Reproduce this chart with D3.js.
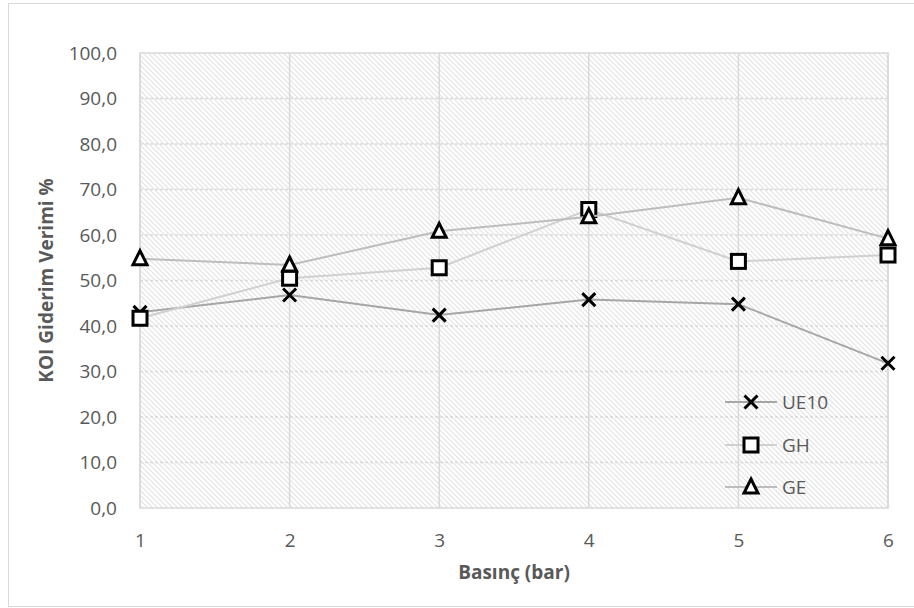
<!DOCTYPE html>
<html><head><meta charset="utf-8">
<script src="https://cdn.jsdelivr.net/npm/d3@7"></script>
<style>html,body{margin:0;padding:0;background:#fff;}svg{display:block;}</style>
</head><body>
<script>
const categories = [1, 2, 3, 4, 5, 6];
const seriesNames = ["UE10", "GH", "GE"];
const ue10 = [43.0, 46.8, 42.4, 45.8, 44.8, 31.8];
const gh = [41.7, 50.5, 52.8, 65.6, 54.2, 55.6];
const ge = [54.8, 53.4, 60.8, 64.0, 68.2, 59.2];
const yTicks = [0, 10, 20, 30, 40, 50, 60, 70, 80, 90, 100];
const xTitle = "Basınç (bar)";
const yTitle = "KOI Giderim Verimi %";

const W = 914, H = 608;
const font = "'Open Sans', sans-serif";
const fs = 19;
const textColor = "#595959";
const svg = d3.select("body").append("svg").attr("width", W).attr("height", H);

svg.append("rect").attr("x", 8.5).attr("y", 3.5).attr("width", W).attr("height", 603)
  .attr("fill", "#fff").attr("stroke", "#d9d9d9").attr("stroke-width", 1);

const x = d3.scaleLinear().domain([1, 6]).range([140, 888]);
const y = d3.scaleLinear().domain([0, 100]).range([508, 53]);

const defs = svg.append("defs");
const pat = defs.append("pattern").attr("id", "hatch").attr("patternUnits", "userSpaceOnUse")
  .attr("width", 5).attr("height", 5);
pat.append("rect").attr("width", 5).attr("height", 5).attr("fill", "#fff");
pat.append("path").attr("d", "M-1,-1 L6,6 M-1,4 L1,6 M4,-1 L6,1")
  .attr("stroke", "#e3e3e3").attr("stroke-width", 1.2);

svg.append("rect").attr("x", x(1)).attr("y", y(100)).attr("width", x(6) - x(1)).attr("height", y(0) - y(100))
  .attr("fill", "url(#hatch)");

svg.append("g").selectAll("line").data(yTicks.filter(d => d > 0 && d < 100)).join("line")
  .attr("x1", x(1)).attr("x2", x(6)).attr("y1", d => y(d)).attr("y2", d => y(d))
  .attr("stroke", "#d9d9d9").attr("stroke-width", 1.3).attr("stroke-dasharray", "3,2");
svg.append("g").selectAll("line").data(categories).join("line")
  .attr("x1", d => x(d)).attr("x2", d => x(d)).attr("y1", y(0)).attr("y2", y(100))
  .attr("stroke", "#d9d9d9").attr("stroke-width", 1.5);
svg.append("rect").attr("x", x(1)).attr("y", y(100)).attr("width", x(6) - x(1)).attr("height", y(0) - y(100))
  .attr("fill", "none").attr("stroke", "#d9d9d9").attr("stroke-width", 1.5);

const fmt = d => d3.format(".1f")(d).replace(".", ",");
const yAxis = svg.append("g").attr("transform", `translate(${x(1) - 23},0)`)
  .call(d3.axisLeft(y).tickValues(yTicks).tickFormat(fmt).tickSize(0));
yAxis.select(".domain").remove();
yAxis.selectAll("text").attr("font-family", font).attr("font-size", fs).attr("fill", textColor).attr("x", 0);

const xAxis = svg.append("g").attr("transform", `translate(0,${y(0) + 22})`)
  .call(d3.axisBottom(x).tickValues(categories).tickFormat(d3.format("d")).tickSize(0));
xAxis.select(".domain").remove();
xAxis.selectAll("text").attr("font-family", font).attr("font-size", fs).attr("fill", textColor);

svg.append("text").attr("x", (x(1) + x(6)) / 2).attr("y", 579).attr("text-anchor", "middle")
  .attr("font-family", font).attr("font-size", fs).attr("font-weight", "bold").attr("fill", textColor)
  .text(xTitle);
svg.append("text").attr("transform", `translate(53,${(y(0) + y(100)) / 2}) rotate(-90)`).attr("text-anchor", "middle")
  .attr("font-family", font).attr("font-size", fs).attr("font-weight", "bold").attr("fill", textColor)
  .text(yTitle);

const lineColors = ["#a6a6a6", "#d0d0d0", "#bdbdbd"];
const shapes = ["x", "square", "triangle"];
const data = [ue10, gh, ge];

function drawMarker(g, shape, cx, cy) {
  if (shape === "x") {
    const s = 6.5;
    g.append("path").attr("d", `M${cx - s},${cy - s}L${cx + s},${cy + s}M${cx - s},${cy + s}L${cx + s},${cy - s}`)
      .attr("stroke", "#000").attr("stroke-width", 3).attr("fill", "none");
  } else if (shape === "square") {
    g.append("rect").attr("x", cx - 7).attr("y", cy - 7).attr("width", 14).attr("height", 14)
      .attr("fill", "#fff").attr("stroke", "#000").attr("stroke-width", 3);
  } else {
    g.append("path").attr("d", `M${cx},${cy - 8}L${cx + 7},${cy + 6}L${cx - 7},${cy + 6}Z`)
      .attr("fill", "#fff").attr("stroke", "#000").attr("stroke-width", 3).attr("stroke-linejoin", "miter");
  }
}

const line = d3.line().x((d, i) => x(categories[i])).y(d => y(d));
data.forEach((vals, si) => {
  const g = svg.append("g");
  g.append("path").attr("d", line(vals)).attr("fill", "none").attr("stroke", lineColors[si]).attr("stroke-width", 2);
  vals.forEach((v, i) => drawMarker(g, shapes[si], x(categories[i]), y(v)));
});

const legY = [402, 445, 487];
seriesNames.forEach((name, si) => {
  const g = svg.append("g");
  g.append("line").attr("x1", 725).attr("x2", 777).attr("y1", legY[si]).attr("y2", legY[si])
    .attr("stroke", lineColors[si]).attr("stroke-width", 2);
  drawMarker(g, shapes[si], 751, legY[si]);
  g.append("text").attr("x", 782).attr("y", legY[si]).attr("dy", "0.35em")
    .attr("font-family", font).attr("font-size", fs).attr("fill", textColor).text(name);
});
</script>
</body></html>
